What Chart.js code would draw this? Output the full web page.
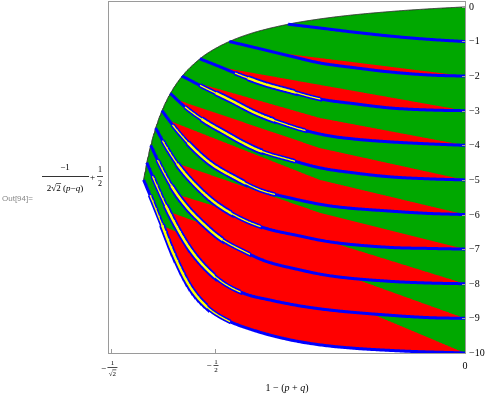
<!DOCTYPE html>
<html>
<head>
<meta charset="utf-8">
<script src="https://cdn.jsdelivr.net/npm/chart.js@4/dist/chart.umd.min.js"></script>
<style>
html, body { margin: 0; padding: 0; background: #fff; }
#wrap { width: 485px; height: 400px; }
</style>
</head>
<body>
<div id="wrap"><canvas id="grafica" width="485" height="400"></canvas></div>
<script>
// outer edge of the region, from the top corner (0,0) down to the tip at y = -5
const arcX = [0, -0.0643, -0.1414, -0.2357, -0.3030, -0.3536, -0.4243, -0.4714, -0.5051, -0.5303, -0.5657, -0.5893, -0.6061, -0.6187, -0.6285, -0.6364, -0.6428];
const arcY = [0, -0.05, -0.125, -0.25, -0.375, -0.5, -0.75, -1, -1.25, -1.5, -2, -2.5, -3, -3.5, -4, -4.5, -5];

// blue curves, level -1 ... -10 (start on the outer edge, end on the right frame)
const curveX1 = [-0.3536, -0.29, -0.21, -0.13, -0.06, 0];
const curveY1 = [-0.5, -0.61, -0.75, -0.87, -0.95, -1];
const curveX2 = [-0.4714, -0.41, -0.35, -0.29, -0.22, -0.15, -0.07, 0];
const curveY2 = [-1, -1.21, -1.42, -1.62, -1.76, -1.88, -1.97, -2];
const curveX3 = [-0.5303, -0.49, -0.45, -0.40, -0.35, -0.29, -0.22, -0.15, -0.07, 0];
const curveY3 = [-1.5, -1.73, -1.97, -2.23, -2.43, -2.66, -2.80, -2.92, -2.98, -3];
const curveX4 = [-0.5657, -0.52, -0.47, -0.42, -0.38, -0.33, -0.27, -0.22, -0.15, -0.07, 0];
const curveY4 = [-2, -2.34, -2.69, -3.06, -3.29, -3.53, -3.73, -3.82, -3.90, -3.96, -4];
const curveX5 = [-0.5893, -0.56, -0.524, -0.48, -0.44, -0.41, -0.35, -0.29, -0.22, -0.15, -0.07, 0];
const curveY5 = [-2.5, -2.89, -3.27, -3.64, -3.96, -4.16, -4.42, -4.65, -4.80, -4.91, -4.97, -5];
const curveX6 = [-0.6061, -0.58, -0.55, -0.51, -0.46, -0.41, -0.35, -0.27, -0.15, -0.07, 0];
const curveY6 = [-3, -3.50, -3.99, -4.51, -4.94, -5.29, -5.52, -5.75, -5.90, -5.97, -6];
const curveX7 = [-0.6187, -0.60, -0.574, -0.54, -0.50, -0.45, -0.40, -0.33, -0.27, -0.15, -0.07, 0];
const curveY7 = [-3.5, -3.99, -4.57, -5.14, -5.66, -6.10, -6.39, -6.62, -6.79, -6.95, -6.98, -7];
const curveX8 = [-0.6285, -0.61, -0.586, -0.56, -0.53, -0.49, -0.44, -0.40, -0.33, -0.27, -0.15, -0.07, 0];
const curveY8 = [-4, -4.57, -5.20, -5.72, -6.18, -6.68, -7.08, -7.34, -7.60, -7.77, -7.93, -7.98, -8];
const curveX9 = [-0.6364, -0.62, -0.602, -0.58, -0.554, -0.524, -0.486, -0.44, -0.39, -0.33, -0.27, -0.15, -0.07, 0];
const curveY9 = [-4.5, -5.06, -5.64, -6.27, -6.91, -7.46, -7.95, -8.29, -8.47, -8.64, -8.76, -8.91, -8.98, -9];
const curveX10 = [-0.6428, -0.626, -0.61, -0.584, -0.55, -0.516, -0.476, -0.43, -0.35, -0.27, -0.13, 0];
const curveY10 = [-5, -5.58, -6.16, -7.11, -8.09, -8.67, -9.05, -9.31, -9.62, -9.80, -9.94, -10];

// red/green divider in each band (red below it), given at these x positions
const sepX = [-0.7, -0.29, 0];
const sepY1 = [-0.15, -0.648, -1];
const sepY2 = [-0.74, -1.478, -2];
const sepY3 = [-1.20, -2.254, -3];
const sepY4 = [-1.52, -3.21, -4];
const sepY5 = [-2.08, -4.08, -5];
const sepY6 = [-2.67, -5.00, -6];
const sepY7 = [-3.90, -5.95, -7];
const sepY8 = [-4.86, -6.699, -8];
const sepY9 = [-5.36, -7.492, -9];
const sepY10 = [-5.75, -8.239, -10];

// part of each curve drawn as a double blue line with yellow inside
const yellowFrom = [null, null, -0.46, -0.53, -0.56, -0.585, -0.605, -0.615, -0.625, -0.63];
const yellowTo   = [null, null, -0.29, -0.32, -0.34, -0.38, -0.41, -0.43, -0.45, -0.47];

const yTicks = [0, -1, -2, -3, -4, -5, -6, -7, -8, -9, -10];

const VERDE = '#00a800', ROJO = '#ff0000', AZUL = '#0000ff', AMARILLO = '#ffff00';

var curveXs = [curveX1, curveX2, curveX3, curveX4, curveX5, curveX6, curveX7, curveX8, curveX9, curveX10];
var curveYs = [curveY1, curveY2, curveY3, curveY4, curveY5, curveY6, curveY7, curveY8, curveY9, curveY10];
var sepYs = [sepY1, sepY2, sepY3, sepY4, sepY5, sepY6, sepY7, sepY8, sepY9, sepY10];

// smooth monotone interpolation through the read points
function suave(xs, ys){
    var n = xs.length, d = [], m = [];
    for (var i = 0; i < n - 1; i++) d[i] = (ys[i + 1] - ys[i]) / (xs[i + 1] - xs[i]);
    m[0] = d[0]; m[n - 1] = d[n - 2];
    for (var i = 1; i < n - 1; i++) m[i] = d[i - 1] * d[i] <= 0 ? 0 : (d[i - 1] + d[i]) / 2;
    for (var i = 0; i < n - 1; i++){
        if (d[i] === 0){ m[i] = 0; m[i + 1] = 0; continue; }
        var a = m[i] / d[i], b = m[i + 1] / d[i], h = a * a + b * b;
        if (h > 9){ var t = 3 / Math.sqrt(h); m[i] = t * a * d[i]; m[i + 1] = t * b * d[i]; }
    }
    return function(x){
        if (x <= xs[0]) return ys[0];
        if (x >= xs[n - 1]) return ys[n - 1];
        var i = 0;
        while (x > xs[i + 1]) i++;
        var h = xs[i + 1] - xs[i], t = (x - xs[i]) / h, t2 = t * t, t3 = t2 * t;
        return (2 * t3 - 3 * t2 + 1) * ys[i] + (t3 - 2 * t2 + t) * h * m[i] + (-2 * t3 + 3 * t2) * ys[i + 1] + (t3 - t2) * h * m[i + 1];
    };
}
function recta(xs, ys){
    return function(x){
        var i = x < xs[1] ? 0 : 1;
        return ys[i] + (ys[i + 1] - ys[i]) * (x - xs[i]) / (xs[i + 1] - xs[i]);
    };
}
function malla(x0, x1){
    var out = [], paso = 0.0015;
    for (var x = x0; x < x1; x += paso) out.push(x);
    out.push(x1);
    return out;
}

var borde = suave(arcX.slice().reverse(), arcY.slice().reverse());
var curvas = curveXs.map((xs, i) => suave(xs, curveYs[i]));
var divisor = sepYs.map(ys => recta(sepX, ys));
var inicio = curveXs.map(xs => xs[0]);

var datasets = [];

// whole region in green
var zona = malla(arcX[arcX.length - 1], 0).reverse().map(x => ({x: x, y: borde(x)}))
    .concat(malla(inicio[9], 0).map(x => ({x: x, y: curvas[9](x)})));
datasets.push({data: zona, fill: 'shape', backgroundColor: VERDE, borderColor: 'transparent', borderWidth: 0, pointRadius: 0, order: 100});

// red part of each band: between curve -k and min(band top, divider)
for (var k = 1; k <= 10; k++){
    var lo = curvas[k - 1], div = divisor[k - 1];
    var arriba = (k === 1) ? borde : ((kk) => (x => x < inicio[kk - 2] ? borde(x) : curvas[kk - 2](x)))(k);
    var tramo = [];
    var cerrar = () => {
        if (tramo.length > 1){
            var poly = tramo.map(p => ({x: p.x, y: p.lo})).concat(tramo.slice().reverse().map(p => ({x: p.x, y: p.hi})));
            datasets.push({data: poly, fill: 'shape', backgroundColor: ROJO, borderColor: 'transparent', borderWidth: 0, pointRadius: 0, order: 90});
        }
        tramo = [];
    };
    malla(inicio[k - 1], 0).forEach(x => {
        var yl = lo(x), yh = Math.min(arriba(x), div(x));
        if (yh > yl) tramo.push({x: x, lo: yl, hi: yh});
        else cerrar();
    });
    cerrar();
}

datasets.push({data: malla(arcX[arcX.length - 1], 0).map(x => ({x: x, y: borde(x)})), borderColor: '#333', borderWidth: 1, fill: false, pointRadius: 0, order: 60});

curvas.forEach((f, i) => {
    datasets.push({data: malla(inicio[i], 0).map(x => ({x: x, y: f(x)})), borderColor: AZUL, borderWidth: 3, fill: false, pointRadius: 0, order: 50});
    if (yellowFrom[i] !== null){
        var a0 = Math.max(yellowFrom[i], inicio[i]), a1 = yellowTo[i];
        var fuera = malla(a0, a1).map(x => ({x: x, y: f(x)}));
        var dentro = malla(a0 + (a1 - a0) * 0.15, a1 - (a1 - a0) * 0.3).map(x => ({x: x, y: f(x)}));
        datasets.push({data: fuera, borderColor: AZUL, borderWidth: 4.5, fill: false, pointRadius: 0, order: 45});
        datasets.push({data: dentro, borderColor: AZUL, borderWidth: 6, fill: false, pointRadius: 0, order: 44});
        datasets.push({data: fuera, borderColor: AMARILLO, borderWidth: 1.3, fill: false, pointRadius: 0, order: 31});
        datasets.push({data: dentro, borderColor: AMARILLO, borderWidth: 2.4, fill: false, pointRadius: 0, order: 30});
    }
});

function runs(ctx, parts, x, y, size, align){
    var w = 0;
    parts.forEach(r => { ctx.font = (r[1] ? 'italic ' : '') + size + 'px "Liberation Serif"'; w += ctx.measureText(r[0]).width; });
    var cx = align === 'center' ? x - w / 2 : x;
    ctx.textAlign = 'left';
    var start = cx;
    parts.forEach(r => {
        ctx.font = (r[1] ? 'italic ' : '') + size + 'px "Liberation Serif"';
        ctx.fillText(r[0], cx, y);
        cx += ctx.measureText(r[0]).width;
    });
    return start;
}

const marco = {
    id: 'marco',
    afterDraw(chart){
        var ctx = chart.ctx, a = chart.chartArea, sx = chart.scales.x, sy = chart.scales.y;
        ctx.save();
        ctx.strokeStyle = '#9a9a9a';
        ctx.lineWidth = 1;
        ctx.strokeRect(a.left + 0.5, a.top + 0.5, a.right - a.left - 1, a.bottom - a.top - 1);

        // right ticks and labels
        ctx.fillStyle = '#000';
        ctx.textBaseline = 'middle';
        yTicks.forEach(v => {
            var py = Math.round(sy.getPixelForValue(v)) + 0.5;
            ctx.beginPath();
            ctx.moveTo(a.right - 1, py);
            ctx.lineTo(a.right - 4, py);
            ctx.stroke();
            ctx.font = '10px "Liberation Serif"';
            ctx.textAlign = 'left';
            ctx.fillText(v === 0 ? '0' : '\u2212' + (-v), a.right + 3, py);
        });

        // bottom ticks
        [-Math.SQRT1_2, -0.5, 0].forEach(v => {
            var px = Math.round(sx.getPixelForValue(v)) + 0.5;
            ctx.beginPath();
            ctx.moveTo(px, a.bottom - 1);
            ctx.lineTo(px, a.bottom - 5);
            ctx.stroke();
        });
        ctx.textBaseline = 'alphabetic';
        ctx.textAlign = 'center';
        ctx.font = '10px "Liberation Serif"';
        ctx.fillText('0', sx.getPixelForValue(0), a.bottom + 15);

        // -1/2
        var h = sx.getPixelForValue(-0.5);
        ctx.font = '9px "Liberation Serif"';
        ctx.fillText('\u2212', h - 6, a.bottom + 14);
        ctx.font = '7px "Liberation Serif"';
        ctx.fillText('1', h + 1, a.bottom + 10);
        ctx.fillText('2', h + 1, a.bottom + 18);
        ctx.fillRect(h - 1.5, a.bottom + 11, 5, 0.7);

        // -1/sqrt2
        var s = sx.getPixelForValue(-Math.SQRT1_2);
        ctx.font = '9px "Liberation Serif"';
        ctx.fillText('\u2212', s - 8, a.bottom + 17);
        ctx.font = '7px "Liberation Serif"';
        ctx.fillText('1', s + 1, a.bottom + 11);
        ctx.fillRect(s - 4, a.bottom + 13, 10, 0.7);
        ctx.textAlign = 'left';
        var wr = ctx.measureText('\u221A').width, w2 = ctx.measureText('2').width;
        var x0 = s + 1 - (wr + w2) / 2;
        ctx.fillText('\u221A2', x0, a.bottom + 22);
        ctx.fillRect(x0 + wr - 0.3, a.bottom + 15.6, w2 + 0.5, 0.6);

        // axis titles
        runs(ctx, [['1 \u2212 (', false], ['p', true], [' + ', false], ['q', true], [')', false]], (a.left + a.right) / 2, 391, 10, 'center');

        runs(ctx, [['\u22121', false]], 65, 170, 9, 'center');
        ctx.fillRect(42, 176, 47, 0.8);
        var d0 = runs(ctx, [['2\u221A2 (', false], ['p', true], ['\u2212', false], ['q', true], [')', false]], 65, 191, 9, 'center');
        ctx.font = '9px "Liberation Serif"';
        var wa = ctx.measureText('2\u221A').width, wb = ctx.measureText('2').width;
        ctx.fillRect(d0 + wa - 0.3, 183.2, wb + 0.6, 0.6);
        runs(ctx, [['+', false]], 90, 180, 9, 'left');
        runs(ctx, [['1', false]], 100, 172, 8, 'center');
        ctx.fillRect(97, 176, 6, 0.7);
        runs(ctx, [['2', false]], 100, 186, 8, 'center');

        ctx.fillStyle = '#888';
        ctx.font = '8px "Liberation Sans"';
        ctx.textAlign = 'left';
        ctx.fillText('Out[94]=', 2, 201);
        ctx.restore();
    }
};

new Chart(document.getElementById('grafica'), {
    type: 'scatter',
    data: { datasets: datasets },
    options: {
        responsive: false,
        animation: false,
        devicePixelRatio: 1,
        showLine: true,
        layout: { padding: { left: 108, right: 19, top: 1, bottom: 46 } },
        elements: { line: { tension: 0 } },
        plugins: { legend: { display: false }, tooltip: { enabled: false } },
        scales: {
            x: { type: 'linear', min: -0.714, max: 0.002, display: false },
            y: { type: 'linear', min: -10.03, max: 0.17, display: false }
        }
    },
    plugins: [marco]
});
</script>
</body>
</html>
